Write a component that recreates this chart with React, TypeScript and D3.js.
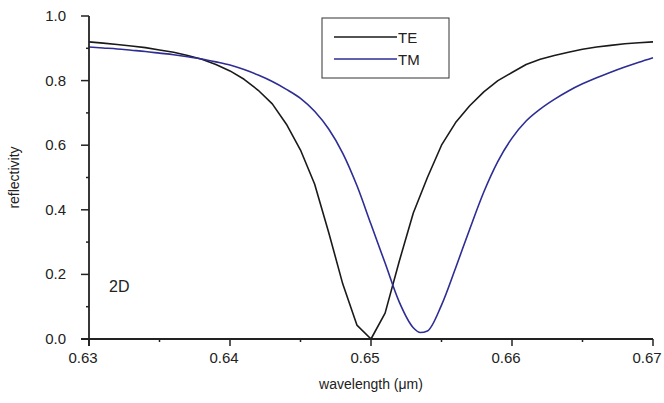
import { useEffect, useRef } from "react";
import * as d3 from "d3";

// wavelength (µm) sampled every 1 nm
const wavelengths = [
  0.63, 0.631, 0.632, 0.633, 0.634, 0.635, 0.636, 0.637, 0.638, 0.639, 0.64,
  0.641, 0.642, 0.643, 0.644, 0.645, 0.646, 0.647, 0.648, 0.649, 0.65,
  0.651, 0.652, 0.653, 0.654, 0.655, 0.656, 0.657, 0.658, 0.659, 0.66,
  0.661, 0.662, 0.663, 0.664, 0.665, 0.666, 0.667, 0.668, 0.669, 0.67,
];

const reflTE = [
  0.92, 0.916, 0.912, 0.907, 0.902, 0.895, 0.888, 0.878, 0.866, 0.85, 0.83,
  0.804, 0.77, 0.728, 0.665, 0.585, 0.48, 0.33, 0.17, 0.043, 0.0,
  0.08, 0.24, 0.39, 0.5, 0.6, 0.67, 0.722, 0.765, 0.8, 0.825,
  0.85, 0.866, 0.878, 0.888, 0.897, 0.904, 0.909, 0.914, 0.917, 0.92,
];

const reflTM = [
  0.904, 0.901, 0.898, 0.894, 0.89, 0.885, 0.88, 0.874, 0.867, 0.858, 0.848,
  0.834, 0.817, 0.797, 0.773, 0.745, 0.705, 0.65, 0.575, 0.475, 0.355,
  0.235, 0.115, 0.035, 0.025, 0.105, 0.22, 0.34, 0.455, 0.55, 0.622,
  0.675, 0.712, 0.742, 0.768, 0.79, 0.809, 0.826, 0.842, 0.857, 0.871,
];

// extra samples around the TM minimum
const tmMinW = [0.6535];
const tmMinR = [0.02];

const xTicks = [0.63, 0.64, 0.65, 0.66, 0.67];
const yTicks = [0, 0.2, 0.4, 0.6, 0.8, 1.0];

const series = [
  { nombre: "TE", color: "#1a1a1a", w: wavelengths, r: reflTE },
  { nombre: "TM", color: "#2d2d94", w: wavelengths, r: reflTM },
];

export default function App() {
  const svgRef = useRef<SVGSVGElement>(null);
  const ANCHO = 664;
  const ALTO = 403;

  useEffect(() => {
    if (!svgRef.current) return;
    const svg = d3.select(svgRef.current);
    svg.selectAll("*").remove();

    const fuente = "'Liberation Sans', Arial, sans-serif";
    const tinta = "#222";

    const x = d3.scaleLinear().domain([0.63, 0.67]).range([89, 653]);
    const y = d3.scaleLinear().domain([0, 1]).range([339, 16]);

    // curves: TE is piecewise linear, TM looks smooth
    series.forEach((s) => {
      let pts = s.w.map((w, i) => [w, s.r[i]] as [number, number]);
      if (s.nombre === "TM") {
        pts = pts.concat(tmMinW.map((w, i) => [w, tmMinR[i]] as [number, number]));
        pts.sort((a, b) => a[0] - b[0]);
      }
      const linea = d3
        .line<[number, number]>()
        .x((d) => x(d[0]))
        .y((d) => y(d[1]))
        .curve(s.nombre === "TM" ? d3.curveMonotoneX : d3.curveLinear);
      svg
        .append("path")
        .attr("d", linea(pts))
        .attr("fill", "none")
        .attr("stroke", s.color)
        .attr("stroke-width", 1.6)
        .attr("stroke-linejoin", "round");
    });

    // y axis
    const ejeY = svg.append("g").attr("transform", `translate(${x(0.63)},0)`);
    ejeY
      .append("line")
      .attr("y1", y(1))
      .attr("y2", y(0) + 7)
      .attr("stroke", tinta)
      .attr("stroke-width", 1.8);
    d3.range(0, 1.001, 0.1).forEach((v) => {
      const mayor = Math.round(v * 10) % 2 === 0;
      ejeY
        .append("line")
        .attr("x1", mayor ? -8 : -3)
        .attr("x2", 0)
        .attr("y1", y(v))
        .attr("y2", y(v))
        .attr("stroke", tinta)
        .attr("stroke-width", 1.5);
    });
    yTicks.forEach((v) => {
      ejeY
        .append("text")
        .attr("x", -23)
        .attr("y", y(v) + 5)
        .attr("text-anchor", "end")
        .attr("font-family", fuente)
        .attr("font-size", 15)
        .attr("fill", tinta)
        .text(v.toFixed(1));
    });

    // x axis
    const ejeX = svg.append("g").attr("transform", `translate(0,${y(0)})`);
    ejeX
      .append("line")
      .attr("x1", x(0.63) - 8)
      .attr("x2", x(0.67))
      .attr("stroke", tinta)
      .attr("stroke-width", 1.8);
    d3.range(0.63, 0.6701, 0.005).forEach((v) => {
      const mayor = Math.round(v * 1000) % 10 === 0;
      ejeX
        .append("line")
        .attr("x1", x(v))
        .attr("x2", x(v))
        .attr("y1", 0)
        .attr("y2", mayor ? 7 : 3)
        .attr("stroke", tinta)
        .attr("stroke-width", 1.5);
    });
    xTicks.forEach((v) => {
      ejeX
        .append("text")
        .attr("x", x(v) - 6)
        .attr("y", 24)
        .attr("text-anchor", "middle")
        .attr("font-family", fuente)
        .attr("font-size", 15)
        .attr("fill", tinta)
        .text(v.toFixed(2));
    });

    // axis titles
    svg
      .append("text")
      .attr("transform", `translate(19,${(y(0) + y(1)) / 2}) rotate(-90)`)
      .attr("text-anchor", "middle")
      .attr("font-family", fuente)
      .attr("font-size", 14)
      .attr("fill", tinta)
      .text("reflectivity");
    svg
      .append("text")
      .attr("x", (x(0.63) + x(0.67)) / 2)
      .attr("y", 389)
      .attr("text-anchor", "middle")
      .attr("font-family", fuente)
      .attr("font-size", 14)
      .attr("fill", tinta)
      .text("wavelength (μm)");

    svg
      .append("text")
      .attr("x", 109)
      .attr("y", 292)
      .attr("font-family", fuente)
      .attr("font-size", 16)
      .attr("fill", tinta)
      .text("2D");

    // legend
    const leyenda = svg.append("g").attr("transform", "translate(322,18)");
    leyenda
      .append("rect")
      .attr("width", 127)
      .attr("height", 60)
      .attr("fill", "white")
      .attr("stroke", "#333")
      .attr("stroke-width", 1);
    series.forEach((s, i) => {
      const yy = 19 + i * 22;
      leyenda
        .append("line")
        .attr("x1", 12)
        .attr("x2", 75)
        .attr("y1", yy)
        .attr("y2", yy)
        .attr("stroke", s.color)
        .attr("stroke-width", 1.6);
      leyenda
        .append("text")
        .attr("x", 76)
        .attr("y", yy + 6)
        .attr("font-family", fuente)
        .attr("font-size", 15)
        .attr("fill", tinta)
        .text(s.nombre);
    });
  }, []);

  return (
    <svg
      ref={svgRef}
      width={ANCHO}
      height={ALTO}
      viewBox={`0 0 ${ANCHO} ${ALTO}`}
      style={{ position: "absolute", left: 0, top: 0, background: "white" }}
    />
  );
}
